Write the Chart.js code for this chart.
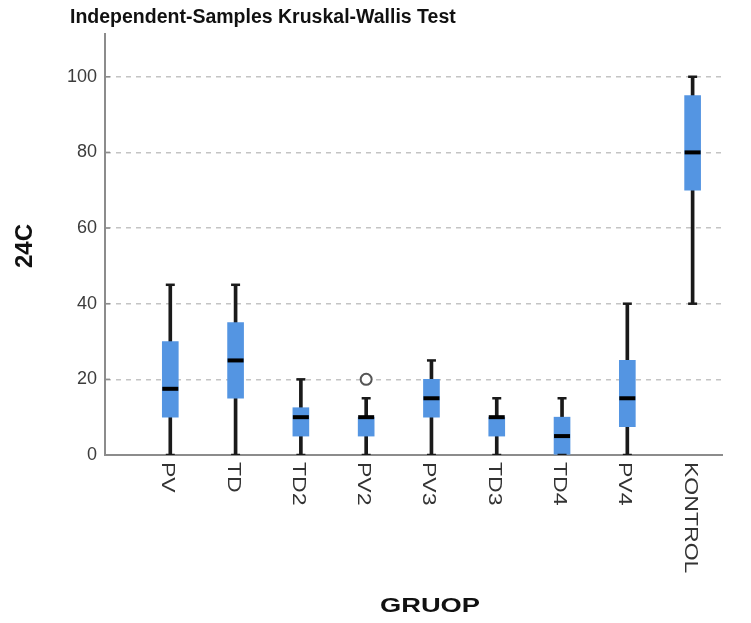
<!DOCTYPE html>
<html lang="en">
<head>
    <meta charset="UTF-8">
    <title>Independent-Samples Kruskal-Wallis Test</title>
    <style>
        body { margin: 0; background: #fff; }
    </style>
</head>
<body>
    <canvas id="boxChart" width="751" height="623"></canvas>
<script src="https://cdn.jsdelivr.net/npm/chart.js"></script>
<script>
    const groups = ['PV', 'TD', 'TD2', 'PV2', 'PV3', 'TD3', 'TD4', 'PV4', 'KONTROL'];
    const lowWhisker = [0, 0, 0, 0, 0, 0, 0, 0, 40];
    const q1 = [10, 15, 5, 5, 10, 5, 0, 7.5, 70];
    const medians = [17.5, 25, 10, 10, 15, 10, 5, 15, 80];
    const q3 = [30, 35, 12.5, 10, 20, 10, 10, 25, 95];
    const highWhisker = [45, 45, 20, 15, 25, 15, 15, 40, 100];
    const outlierGroups = [3];
    const outlierValues = [20];

    const boxBlue = 'rgb(84,149,226)';

    // labels, axis titles and main title drawn by hand (x labels read top to bottom)
    const textPlugin = {
        id: 'textPlugin',
        afterDraw(chart) {
            const ctx = chart.ctx;
            const xs = chart.scales.x;
            const ys = chart.scales.y;
            const area = chart.chartArea;
            ctx.save();

            // small inward ticks on the y axis
            ctx.strokeStyle = '#8c8c8c';
            ctx.lineWidth = 1.5;
            ys.ticks.forEach(t => {
                const py = ys.getPixelForValue(t.value);
                ctx.beginPath();
                ctx.moveTo(area.left, py);
                ctx.lineTo(area.left + 5, py);
                ctx.stroke();
            });

            ctx.fillStyle = '#333';
            ctx.font = "18px 'Liberation Sans', Arial, sans-serif";
            groups.forEach((g, i) => {
                ctx.save();
                ctx.translate(xs.getPixelForValue(i) - 3, area.bottom + 7);
                ctx.rotate(Math.PI / 2);
                ctx.scale(1.28, 1);
                ctx.textAlign = 'left';
                ctx.textBaseline = 'middle';
                ctx.fillText(g, 0, 0);
                ctx.restore();
            });

            ctx.fillStyle = '#111';
            ctx.font = "bold 19.5px 'Liberation Sans', Arial, sans-serif";
            ctx.textAlign = 'left';
            ctx.textBaseline = 'alphabetic';
            ctx.fillText('Independent-Samples Kruskal-Wallis Test', 70, 23);

            ctx.save();
            ctx.translate(25, 246);
            ctx.rotate(-Math.PI / 2);
            ctx.font = "bold 24px 'Liberation Sans', Arial, sans-serif";
            ctx.textAlign = 'center';
            ctx.textBaseline = 'middle';
            ctx.fillText('24C', 0, 0);
            ctx.restore();

            ctx.save();
            ctx.translate(430, 606);
            ctx.scale(1.3, 1);
            ctx.font = "bold 21px 'Liberation Sans', Arial, sans-serif";
            ctx.textAlign = 'center';
            ctx.textBaseline = 'middle';
            ctx.fillText('GRUOP', 0, 0);
            ctx.restore();

            ctx.restore();
        }
    };

    const ctx = document.getElementById('boxChart').getContext('2d');
    const chart = new Chart(ctx, {
        type: 'bar',
        data: {
            datasets: [
                {
                    label: 'whisker',
                    data: groups.map((g, i) => ({ x: i, y: [lowWhisker[i], highWhisker[i]] })),
                    backgroundColor: '#1a1a1a',
                    barThickness: 3,
                    grouped: false,
                    order: 5
                },
                {
                    label: 'box',
                    data: groups.map((g, i) => ({ x: i, y: [q1[i], q3[i]] })),
                    backgroundColor: boxBlue,
                    barThickness: 16,
                    grouped: false,
                    order: 4
                },
                {
                    type: 'scatter',
                    label: 'caps',
                    data: groups.map((g, i) => ({ x: i, y: highWhisker[i] }))
                        .concat(groups.map((g, i) => ({ x: i, y: lowWhisker[i] }))),
                    pointStyle: 'line',
                    radius: 4.5,
                    borderColor: '#1a1a1a',
                    borderWidth: 2.5,
                    order: 2
                },
                {
                    type: 'scatter',
                    label: 'median',
                    data: groups.map((g, i) => ({ x: i, y: medians[i] })),
                    pointStyle: 'line',
                    radius: 8,
                    borderColor: '#000',
                    borderWidth: 4,
                    order: 1
                },
                {
                    type: 'scatter',
                    label: 'outlier',
                    data: outlierGroups.map((g, k) => ({ x: g, y: outlierValues[k] })),
                    pointStyle: 'circle',
                    radius: 5.5,
                    backgroundColor: '#fff',
                    borderColor: '#555',
                    borderWidth: 2,
                    order: 1
                }
            ]
        },
        options: {
            responsive: false,
            animation: false,
            events: [],
            layout: { padding: { left: 0, right: 29, top: 34, bottom: 168 } },
            plugins: {
                legend: { display: false },
                tooltip: { enabled: false }
            },
            scales: {
                x: {
                    type: 'linear',
                    min: -1,
                    max: 8.45,
                    offset: false,
                    grid: { display: false },
                    ticks: { display: false },
                    border: { display: true, color: '#8c8c8c', width: 2 },
                    afterFit(s) { s.height = 0; }
                },
                y: {
                    min: 0,
                    max: 111.3,
                    ticks: {
                        stepSize: 20,
                        includeBounds: false,
                        padding: 8,
                        color: '#3c3c3c',
                        font: { family: "'Liberation Sans', Arial, sans-serif", size: 18 }
                    },
                    grid: {
                        drawTicks: false,
                        lineWidth: 1.5,
                        color: c => c.tick && c.tick.value === 0 ? 'rgba(0,0,0,0)' : '#c4c4c4'
                    },
                    border: { display: true, color: '#8c8c8c', width: 2, dash: [5, 5] },
                    afterFit(s) { s.width = 105; }
                }
            }
        },
        plugins: [textPlugin]
    });
</script>
</body>
</html>
